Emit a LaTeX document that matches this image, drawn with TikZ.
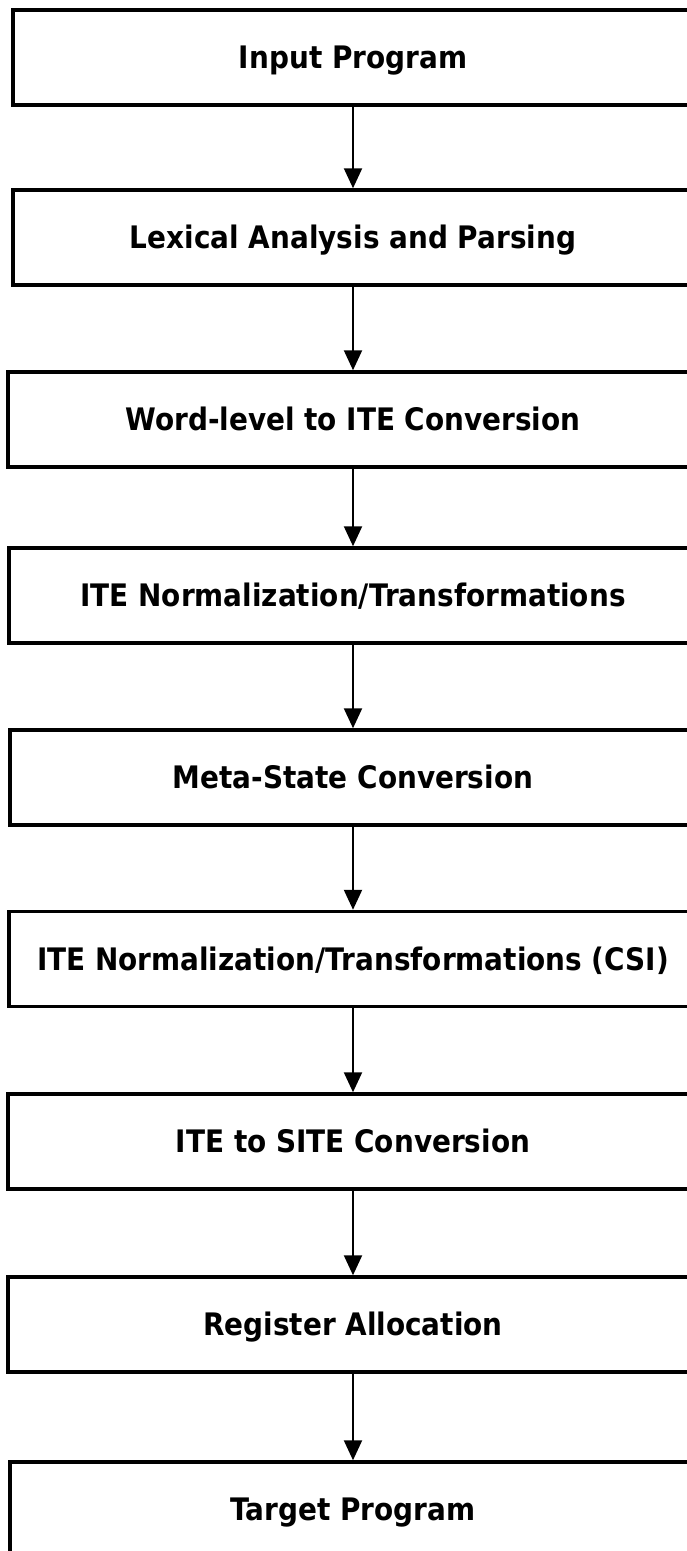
\documentclass[tikz,border=0pt]{standalone}
\usepackage{fontspec}
\setmainfont{DejaVu Sans}[FakeStretch=0.9]
\usetikzlibrary{arrows.meta}

\begin{document}
\begin{tikzpicture}[x=1pt,y=-1pt,
  stage/.style={draw=black, line width=3.5pt, fill=white, rectangle,
    inner sep=0pt, minimum height=95pt,
    font=\fontsize{31}{36}\selectfont\bfseries,
    text height=22.6pt, text depth=0pt},
  flow/.style={draw=black, line width=2.2pt,
    -{Triangle[length=20pt,width=18pt]}}]
  \useasboundingbox (0,0) rectangle (686,1551);

  % processing stages, top to bottom (all centred on x = 353)
  \node[stage, minimum width=680pt] (s1) at (353,57.5)   {Input Program};
  \node[stage, minimum width=680pt] (s2) at (353,237.5)  {Lexical Analysis and Parsing};
  \node[stage, minimum width=690pt] (s3) at (353,419.5)  {Word-level to ITE Conversion};
  \node[stage, minimum width=688pt] (s4) at (353,595.5)  {ITE Normalization/Transformations};
  \node[stage, minimum width=686pt] (s5) at (353,777.5)  {Meta-State Conversion};
  \node[stage, minimum width=688pt] (s6) at (353,959)    {ITE Normalization/Transformations (CSI)};
  \node[stage, minimum width=690pt] (s7) at (353,1141.5) {ITE to SITE Conversion};
  \node[stage, minimum width=690pt] (s8) at (353,1324.5) {Register Allocation};
  \node[stage, minimum width=686pt] (s9) at (353,1509.5) {Target Program};

  % arrows between consecutive stages
  \draw[flow] (s1.south) -- (s2.north);
  \draw[flow] (s2.south) -- (s3.north);
  \draw[flow] (s3.south) -- (s4.north);
  \draw[flow] (s4.south) -- (s5.north);
  \draw[flow] (s5.south) -- (s6.north);
  \draw[flow] (s6.south) -- (s7.north);
  \draw[flow] (s7.south) -- (s8.north);
  \draw[flow] (s8.south) -- (s9.north);
\end{tikzpicture}
\end{document}
